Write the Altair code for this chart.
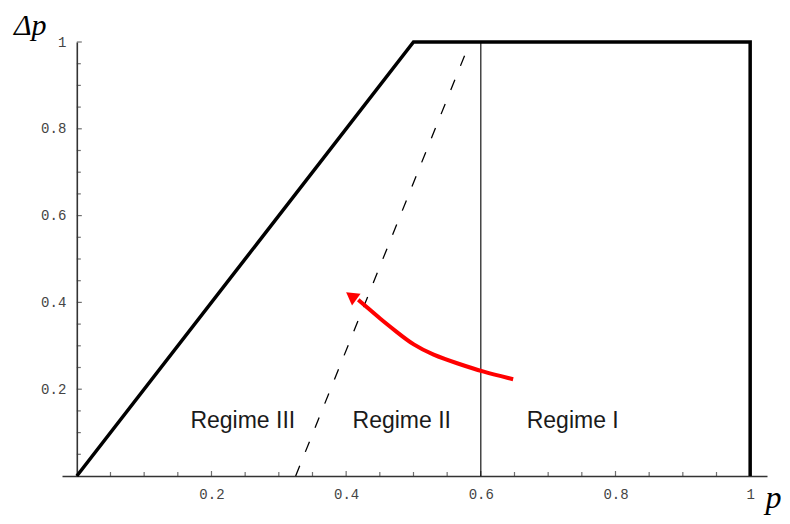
import altair as alt
import pandas as pd

# ---- data ----
thick_p = [0.0, 0.5, 1.0, 1.0]
thick_dp = [0.0, 1.0, 1.0, 0.0]

dashed_p = [0.325, 0.584]
dashed_dp = [0.0, 1.0]

vline_p = [0.6, 0.6]
vline_dp = [0.0, 1.0]

red_p = [0.648, 0.6036, 0.564, 0.529, 0.4996, 0.475, 0.450, 0.430, 0.418]
red_dp = [0.223, 0.240, 0.260, 0.279, 0.302, 0.332, 0.363, 0.390, 0.406]

head_p = [0.4075]
head_dp = [0.415]

regime_labels = ["Regime III", "Regime II", "Regime I"]
regime_p = [0.2465, 0.4826, 0.7365]
regime_dp = [0.11, 0.11, 0.11]

major_ticks = [0.2, 0.4, 0.6, 0.8, 1.0]
minor_ticks = [0.05, 0.1, 0.15, 0.25, 0.3, 0.35, 0.45, 0.5, 0.55,
               0.65, 0.7, 0.75, 0.85, 0.9, 0.95]

# ---- scales / axes ----
xs = alt.Scale(domain=[-0.022, 1.025], nice=False, zero=False)
ys = alt.Scale(domain=[0, 1], nice=False, zero=False)

x_axis = alt.Axis(values=major_ticks, format="~g", ticks=False, grid=False,
                  domain=True, domainColor="#333333", domainWidth=1.4,
                  labelFont="Liberation Mono", labelFontSize=14,
                  labelColor="#444444", labelPadding=11, labelFlush=False,
                  title="p", titleFont="Liberation Serif", titleFontStyle="italic",
                  titleFontWeight="normal", titleFontSize=32, titleColor="black",
                  titleX=711, titleY=31, titleAlign="center",
                  titleBaseline="alphabetic")
y_axis = alt.Axis(values=major_ticks, format="~g", ticks=False, grid=False,
                  domain=True, domainColor="#333333", domainWidth=1.6,
                  offset=-14.8,
                  labelFont="Liberation Mono", labelFontSize=14,
                  labelColor="#444444", labelPadding=11, labelFlush=False,
                  title="Δp", titleFont="Liberation Serif", titleFontStyle="italic",
                  titleFontWeight="normal", titleFontSize=30, titleColor="black",
                  titleAngle=0, titleX=-47, titleY=-8, titleAlign="center",
                  titleBaseline="alphabetic")


def X():
    return alt.X("p:Q", scale=xs, axis=x_axis)


def Y():
    return alt.Y("dp:Q", scale=ys, axis=y_axis)


def df(p, dp):
    return pd.DataFrame({"p": p, "dp": dp, "i": list(range(len(p)))})


thick = alt.Chart(df(thick_p, thick_dp)).mark_line(
    color="black", strokeWidth=3.5, strokeJoin="miter"
).encode(x=X(), y=Y(), order="i:Q")

dashed = alt.Chart(df(dashed_p, dashed_dp)).mark_line(
    color="black", strokeWidth=1.3, strokeDash=[11, 15]
).encode(x=X(), y=Y(), order="i:Q")

vline = alt.Chart(df(vline_p, vline_dp)).mark_line(
    color="black", strokeWidth=1.1
).encode(x=X(), y=Y(), order="i:Q")

red = alt.Chart(df(red_p, red_dp)).mark_line(
    color="#ff0000", strokeWidth=4, interpolate="basis", strokeCap="butt"
).encode(x=X(), y=Y(), order="i:Q")

head = alt.Chart(df(head_p, head_dp)).mark_point(
    shape="triangle-up", filled=True, color="#ff0000", opacity=1,
    size=210, angle=306, strokeWidth=0
).encode(x=X(), y=Y())

xt_major = alt.Chart(df(major_ticks, [0.0] * len(major_ticks))).mark_tick(
    orient="vertical", size=5, thickness=1.2, color="#333333", yOffset=-2.5
).encode(x=X(), y=Y())
xt_minor = alt.Chart(df(minor_ticks, [0.0] * len(minor_ticks))).mark_tick(
    orient="vertical", size=4, thickness=1.2, color="#333333", yOffset=-2
).encode(x=X(), y=Y())
yt_major = alt.Chart(df([0.0] * len(major_ticks), major_ticks)).mark_tick(
    orient="horizontal", size=5, thickness=1.2, color="#333333", xOffset=2.5
).encode(x=X(), y=Y())
yt_minor = alt.Chart(df([0.0] * len(minor_ticks), minor_ticks)).mark_tick(
    orient="horizontal", size=4, thickness=1.2, color="#333333", xOffset=2
).encode(x=X(), y=Y())

labels = alt.Chart(pd.DataFrame({"p": regime_p, "dp": regime_dp,
                                 "t": regime_labels})).mark_text(
    font="Liberation Sans", fontSize=23, color="#1a1a1a",
    align="center", baseline="alphabetic"
).encode(x=X(), y=Y(), text="t:N")

chart = alt.layer(
    xt_minor, xt_major, yt_minor, yt_major,
    vline, dashed, thick, red, head, labels
).properties(
    width=705, height=434,
    autosize=alt.AutoSizeParams(type="none"),
    padding={"left": 54, "top": 34, "right": 15, "bottom": 40},
).configure_view(stroke=None)

chart.save("out.html", embed_options={"renderer": "svg", "actions": False})
